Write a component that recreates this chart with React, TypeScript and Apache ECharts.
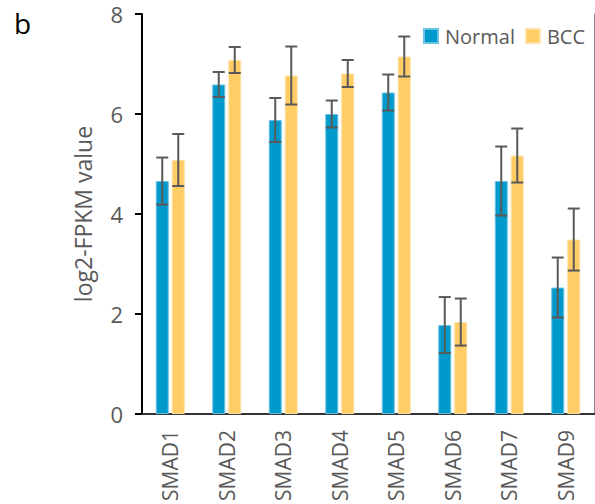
import React, { useEffect, useRef } from "react";
import * as echarts from "echarts";

const categories = ["SMAD1", "SMAD2", "SMAD3", "SMAD4", "SMAD5", "SMAD6", "SMAD7", "SMAD9"];
const normalValues = [4.66, 6.59, 5.88, 6.0, 6.43, 1.78, 4.66, 2.53];
const normalErrors = [0.47, 0.25, 0.44, 0.27, 0.36, 0.56, 0.69, 0.6];
const bccValues = [5.08, 7.08, 6.77, 6.81, 7.15, 1.84, 5.17, 3.49];
const bccErrors = [0.52, 0.26, 0.58, 0.27, 0.4, 0.47, 0.54, 0.62];
const yTicks = { min: 0, max: 8, interval: 2 };

const FONT = "'Open Sans', sans-serif";
const GRAY = "#595959";
const BAR_W = 13;
const GAP = 3;

function errorSeries(name: string, values: number[], errs: number[], offset: number) {
  return {
    type: "custom",
    name: name + "-err",
    silent: true,
    z: 10,
    data: values.map((v, i) => [i, v - errs[i], v + errs[i]]),
    renderItem: (params: any, api: any) => {
      const lo = api.coord([api.value(0), api.value(1)]);
      const hi = api.coord([api.value(0), api.value(2)]);
      const x = lo[0] + offset;
      const cap = 6;
      const style = { stroke: "#595959", lineWidth: 2 };
      return {
        type: "group",
        children: [
          { type: "line", shape: { x1: x, y1: lo[1], x2: x, y2: hi[1] }, style },
          { type: "line", shape: { x1: x - cap, y1: lo[1], x2: x + cap, y2: lo[1] }, style },
          { type: "line", shape: { x1: x - cap, y1: hi[1], x2: x + cap, y2: hi[1] }, style },
        ],
      };
    },
  };
}

export default function App() {
  const ref = useRef<HTMLDivElement>(null);
  useEffect(() => {
    if (!ref.current) return;
    const chart = echarts.init(ref.current, null, { renderer: "svg" });
    const off = (BAR_W + GAP) / 2;
    chart.setOption({
      animation: false,
      textStyle: { fontFamily: FONT },
      title: {
        text: "b",
        left: 9,
        top: 4,
        textStyle: { fontSize: 28, fontWeight: "normal", color: "#000", fontFamily: FONT },
      },
      legend: {
        data: ["Normal", "BCC"],
        left: 423,
        top: 26,
        padding: 0,
        icon: "rect",
        itemWidth: 14,
        itemHeight: 14,
        itemGap: 10,
        textStyle: { fontSize: 20, color: GRAY, fontFamily: FONT, padding: [0, 0, 0, 2] },
      },
      grid: { left: 142, right: 1, top: 14, bottom: 89, containLabel: false },
      xAxis: [
        {
          type: "category",
          data: categories,
          axisLine: { lineStyle: { color: "#000", width: 2 } },
          axisTick: { show: false },
          axisLabel: { rotate: 90, fontSize: 21, color: GRAY, margin: 16, fontFamily: FONT },
        },
        {
          type: "category",
          data: categories,
          position: "top",
          axisLine: { show: true, lineStyle: { color: "#333", width: 2 } },
          axisTick: { show: false },
          axisLabel: { show: false },
        },
      ],
      yAxis: [
        {
          type: "value",
          min: yTicks.min,
          max: yTicks.max,
          interval: yTicks.interval,
          name: "log2-FPKM value",
          nameLocation: "middle",
          nameGap: 48,
          nameTextStyle: { fontSize: 23, color: GRAY, fontFamily: FONT },
          axisLine: { show: true, lineStyle: { color: "#000", width: 2 } },
          axisTick: { show: true, length: 7, lineStyle: { color: "#000", width: 2 } },
          axisLabel: { fontSize: 22, color: GRAY, margin: 19, fontFamily: FONT },
          splitLine: { show: false },
        },
        {
          type: "value",
          min: yTicks.min,
          max: yTicks.max,
          interval: yTicks.interval,
          position: "right",
          axisLine: { show: true, lineStyle: { color: "#8c8c8c", width: 1 } },
          axisTick: { show: false },
          axisLabel: { show: false },
          splitLine: { show: false },
        },
      ],
      series: [
        {
          name: "Normal",
          type: "bar",
          data: normalValues,
          barWidth: BAR_W,
          barGap: "23%",
          itemStyle: { color: "#0099CC", borderColor: "#6cc3e3", borderWidth: 1 },
        },
        {
          name: "BCC",
          type: "bar",
          data: bccValues,
          barWidth: BAR_W,
          barGap: "23%",
          itemStyle: { color: "#FFCC66", borderColor: "#ffe2a6", borderWidth: 1 },
        },
        errorSeries("Normal", normalValues, normalErrors, -off),
        errorSeries("BCC", bccValues, bccErrors, off),
      ],
    });
    return () => chart.dispose();
  }, []);
  return (
    <div
      ref={ref}
      style={{ position: "absolute", left: 0, top: 0, width: 595, height: 504, background: "#fff" }}
    />
  );
}
